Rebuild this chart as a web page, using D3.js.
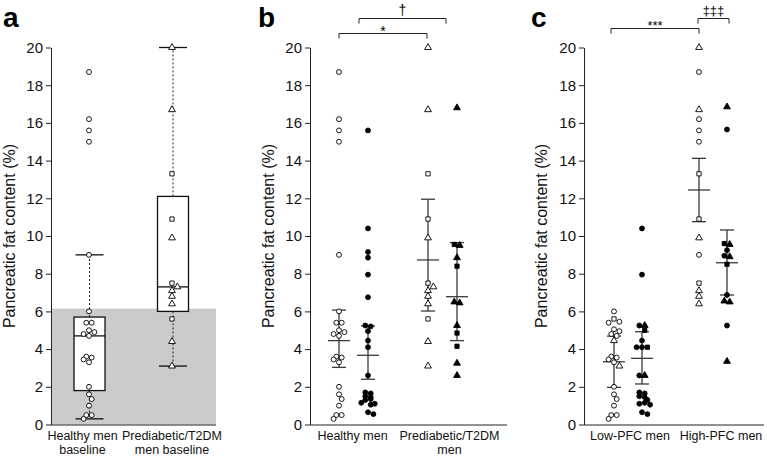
<!DOCTYPE html>
<html><head><meta charset="utf-8">
<script src="https://cdn.jsdelivr.net/npm/d3@7"></script>
<style>
body{margin:0;background:#fff}
svg{display:block}
text{font-family:"Liberation Sans",Arial,Helvetica,sans-serif;fill:#111}
</style>
</head><body><svg id="chart" width="767" height="457"></svg>
<script>
// ================= DATA =================
const yTicks = [0, 2, 4, 6, 8, 10, 12, 14, 16, 18, 20];
const yLabel = "Pancreatic fat content (%)";
const panelLetters = ["a", "b", "c"];

// ---- panel a (box plots at baseline) ----
const aCategories = [["Healthy men", "baseline"], ["Prediabetic/T2DM", "men baseline"]];
const boxWhiskerLow  = [0.3, 3.1];
const boxQ1          = [1.8, 6.0];
const boxMedian      = [4.7, 7.3];
const boxQ3          = [5.7, 12.1];
const boxWhiskerHigh = [9.0, 20.0];
const normalPfcCutoff = 6.15;

const healthyBaseline = [18.7, 16.2, 15.6, 15.0, 9.0, 6.0, 5.4, 5.4, 5.0, 4.9, 4.8, 4.7,
                         3.6, 3.55, 3.45, 3.3, 2.0, 1.6, 1.35, 1.0, 0.5, 0.5, 0.3];
const predBaseline       = [20.0, 16.7, 13.3, 10.9, 9.9, 7.5, 7.3, 7.1, 6.8, 6.4, 5.6, 4.4, 3.1];
const predBaselineShapes = ["t", "t", "s", "s", "t", "s", "t", "t", "t", "t", "s", "t", "t"];

// ---- panel b (baseline vs follow-up) ----
const bCategories = [["Healthy men"], ["Prediabetic/T2DM", "men"]];
const healthyFollowUp = [15.6, 10.4, 9.15, 8.85, 7.95, 6.75, 5.25, 5.2, 4.95, 4.45, 4.1, 2.6,
                         1.7, 1.65, 1.5, 1.45, 1.35, 1.3, 1.15, 1.1, 1.05, 0.65, 0.55];
const predFollowUp       = [16.8, 9.55, 9.5, 8.85, 8.4, 6.5, 6.45, 5.25, 4.85, 4.15, 3.25, 2.6];
const predFollowUpShapes = ["t", "s", "t", "t", "s", "t", "t", "t", "s", "s", "t", "t"];
// summary order: healthy baseline, healthy follow-up, pred baseline, pred follow-up
const bMean  = [4.45, 3.67, 8.73, 6.78];
const bLower = [3.03, 2.40, 6.02, 4.45];
const bUpper = [6.07, 5.23, 11.95, 9.65];

// ---- panel c (low vs high PFC) ----
const cCategories = [["Low-PFC men"], ["High-PFC men"]];
const lowBaseline       = [6.0, 5.6, 5.45, 5.4, 5.05, 4.95, 4.8, 4.7, 4.45, 3.6, 3.55, 3.45, 3.3, 3.1,
                           2.0, 1.6, 1.35, 1.0, 0.5, 0.5, 0.3];
const lowBaselineShapes = ["c", "s", "c", "c", "c", "c", "c", "c", "t", "c", "c", "c", "c", "t",
                           "c", "c", "c", "c", "c", "c", "c"];
const lowFollowUp       = [10.4, 7.95, 5.25, 5.25, 5.0, 4.45, 4.1, 4.1, 4.1, 2.6, 2.6,
                           1.7, 1.65, 1.5, 1.45, 1.3, 1.15, 1.1, 1.05, 0.65, 0.55];
const lowFollowUpShapes = ["c", "c", "c", "t", "s", "c", "c", "s", "c", "c", "t",
                           "c", "c", "c", "c", "c", "c", "c", "c", "c", "c"];
const highBaseline       = [20.0, 18.7, 16.7, 16.2, 15.6, 15.0, 13.3, 10.9, 9.9, 9.0, 7.5, 7.1, 6.8, 6.4];
const highBaselineShapes = ["t", "c", "t", "c", "c", "c", "s", "s", "t", "c", "s", "t", "t", "t"];
const highFollowUp       = [16.85, 15.65, 9.6, 9.55, 9.25, 8.95, 8.9, 8.5, 6.87, 6.55, 6.5, 5.25, 3.35];
const highFollowUpShapes = ["t", "c", "s", "t", "c", "c", "t", "s", "c", "t", "t", "c", "t"];
// summary order: low baseline, low follow-up, high baseline, high follow-up
const cMean  = [3.33, 3.51, 12.44, 8.58];
const cLower = [1.97, 2.15, 10.76, 6.87];
const cUpper = [4.69, 4.92, 14.12, 10.32];

// significance labels
const bSigLabels = ["*", "\u2020"];
const cSigLabels = ["***", "\u2021\u2021\u2021"];

// ================= DRAWING =================
const svg = d3.select("#chart");
const y = d3.scaleLinear().domain([0, 20]).range([424.5, 47.5]);
const axisColor = "#222";
const barColor = "#3a3a3a";

const symType = { c: d3.symbolCircle, t: d3.symbolTriangle, s: d3.symbolSquare };
const symSize = { c: 19, t: 20, s: 18 };

// simple dodge, then re-centre each horizontally-spread cluster on the column
function dodge(values, cx) {
  const order = d3.range(values.length).sort((i, j) => values[j] - values[i]);
  const placed = [];
  const xs = new Array(values.length);
  for (const i of order) {
    const py = y(values[i]);
    let px = cx;
    for (const k of [0, 1, -1, 2, -2, 3, -3]) {
      const cand = cx + k * 2.7;
      if (placed.every(p => Math.hypot(p[0] - cand, p[1] - py) >= 4.8)) { px = cand; break; }
    }
    xs[i] = px; placed.push([px, py]);
  }
  // clusters: points whose y differ by < 1.5 px form a row
  const rows = [];
  for (const i of order) {
    const py = y(values[i]);
    const row = rows.find(r => Math.abs(r.y - py) < 1.5);
    if (row) row.idx.push(i); else rows.push({ y: py, idx: [i] });
  }
  rows.forEach(r => {
    if (r.idx.length > 1) {
      const m = d3.mean(r.idx, i => xs[i]);
      r.idx.forEach(i => xs[i] += cx - m);
    }
  });
  return xs;
}

function drawPoints(g, values, shapes, cx, filled) {
  const xs = dodge(values, cx);
  g.append("g").selectAll("path").data(values).join("path")
    .attr("transform", (d, i) => `translate(${xs[i]},${y(d)})`)
    .attr("d", (d, i) => d3.symbol().type(symType[shapes ? shapes[i] : "c"]).size(symSize[shapes ? shapes[i] : "c"])())
    .attr("fill", filled ? "#000" : "#fff")
    .attr("stroke", "#000")
    .attr("stroke-width", 0.9);
}

function drawAxes(g, left, right, labelX) {
  g.append("g").attr("transform", `translate(${left},0)`)
    .call(d3.axisLeft(y).tickValues(yTicks).tickSize(5).tickSizeOuter(0).tickPadding(3))
    .attr("font-size", 15).attr("font-family", null)
    .call(s => s.select(".domain").attr("stroke", axisColor))
    .call(s => s.selectAll(".tick line").attr("stroke", axisColor))
    .call(s => s.selectAll(".tick text").attr("fill", "#111"));
  g.append("line").attr("x1", left).attr("x2", right).attr("y1", y(0) + 0.5).attr("y2", y(0) + 0.5)
    .attr("stroke", axisColor);
  g.append("text")
    .attr("transform", `translate(${labelX},${(y(0) + y(20)) / 2}) rotate(-90)`)
    .attr("text-anchor", "middle").attr("font-size", 16).text(yLabel);
}

function drawCatLabels(g, cats, xs) {
  cats.forEach((lines, i) => {
    const t = g.append("text").attr("text-anchor", "middle").attr("font-size", 12.5);
    lines.forEach((ln, j) => t.append("tspan").attr("x", xs[i]).attr("y", 440 + j * 14).text(ln));
  });
}

function drawLetter(x, letter) {
  svg.append("text").attr("x", x).attr("y", 27).attr("font-size", 28).attr("font-weight", "bold")
    .style("fill", "#000").text(letter);
}

function drawErrorBars(g, cols, mean, lower, upper) {
  cols.forEach((cx, i) => {
    g.append("line").attr("x1", cx).attr("x2", cx).attr("y1", y(lower[i])).attr("y2", y(upper[i]))
      .attr("stroke", barColor).attr("stroke-width", 1.3);
    [lower[i], upper[i]].forEach(v => g.append("line").attr("x1", cx - 7).attr("x2", cx + 7)
      .attr("y1", y(v)).attr("y2", y(v)).attr("stroke", barColor).attr("stroke-width", 1.3));
    g.append("line").attr("x1", cx - 11).attr("x2", cx + 11).attr("y1", y(mean[i])).attr("y2", y(mean[i]))
      .attr("stroke", barColor).attr("stroke-width", 1.3);
  });
}

function drawBracket(x1, x2, yl, label, fontSize, textY) {
  svg.append("path").attr("d", `M${x1},${yl + 5}V${yl}H${x2}V${yl + 5}`)
    .attr("fill", "none").attr("stroke", "#222").attr("stroke-width", 1);
  svg.append("text").attr("x", (x1 + x2) / 2).attr("y", textY).attr("text-anchor", "middle")
    .attr("font-size", fontSize).style("fill", "#000").text(label);
}

// ---------- panel a ----------
{
  const g = svg.append("g");
  const left = 51, right = 216;
  const xa = d3.scalePoint().domain([0, 1]).range([89.5, 173]);
  g.append("rect").attr("x", left).attr("width", right - left)
    .attr("y", y(normalPfcCutoff)).attr("height", y(0) - y(normalPfcCutoff)).attr("fill", "#cbcbcb");
  [0, 1].forEach(i => {
    const cx = xa(i), hw = 15.5, cap = 14;
    g.append("line").attr("x1", cx).attr("x2", cx).attr("y1", y(boxQ3[i])).attr("y2", y(boxWhiskerHigh[i]))
      .attr("stroke", "#222").attr("stroke-dasharray", "2,2");
    g.append("line").attr("x1", cx).attr("x2", cx).attr("y1", y(boxQ1[i])).attr("y2", y(boxWhiskerLow[i]))
      .attr("stroke", "#222").attr("stroke-dasharray", "2,2");
    [boxWhiskerLow[i], boxWhiskerHigh[i]].forEach(v => g.append("line")
      .attr("x1", cx - cap).attr("x2", cx + cap).attr("y1", y(v)).attr("y2", y(v))
      .attr("stroke", "#111").attr("stroke-width", 1.3));
    g.append("rect").attr("x", cx - hw).attr("width", 2 * hw).attr("y", y(boxQ3[i]))
      .attr("height", y(boxQ1[i]) - y(boxQ3[i])).attr("fill", "#fff").attr("stroke", "#111").attr("stroke-width", 1.3);
    g.append("line").attr("x1", cx - hw).attr("x2", cx + hw).attr("y1", y(boxMedian[i])).attr("y2", y(boxMedian[i]))
      .attr("stroke", "#111").attr("stroke-width", 1.3);
  });
  drawPoints(g, healthyBaseline, null, xa(0) - 0.5, false);
  drawPoints(g, predBaseline, predBaselineShapes, xa(1) - 1, false);
  drawAxes(g, left, right, 15);
  drawCatLabels(g, aCategories, [xa(0) - 7, xa(1) - 1]);
  drawLetter(3, panelLetters[0]);
}

// ---------- panel b ----------
{
  const g = svg.append("g");
  const left = 310, right = 507;
  const xb = d3.scalePoint().domain([0, 1]).range([353.5, 442.5]);
  const cols = [xb(0) - 14.5, xb(0) + 14.5, xb(1) - 14.5, xb(1) + 14.5];
  drawErrorBars(g, cols, bMean, bLower, bUpper);
  drawPoints(g, healthyBaseline, null, cols[0], false);
  drawPoints(g, healthyFollowUp, null, cols[1], true);
  drawPoints(g, predBaseline, predBaselineShapes, cols[2], false);
  drawPoints(g, predFollowUp, predFollowUpShapes, cols[3], true);
  drawAxes(g, left, right, 274);
  drawCatLabels(g, bCategories, [xb(0) - 1, xb(1) + 7]);
  drawLetter(258, panelLetters[1]);
  drawBracket(cols[0], cols[2] - 1, 33.5, bSigLabels[0], 14, 36);
  drawBracket(cols[1] - 9, cols[3] - 11, 18.5, bSigLabels[1], 14, 15);
}

// ---------- panel c ----------
{
  const g = svg.append("g");
  const left = 584, right = 764;
  const xc = d3.scalePoint().domain([0, 1]).range([628, 713]);
  const cols = [xc(0) - 14, xc(0) + 14, xc(1) - 14, xc(1) + 14];
  drawErrorBars(g, cols, cMean, cLower, cUpper);
  drawPoints(g, lowBaseline, lowBaselineShapes, cols[0], false);
  drawPoints(g, lowFollowUp, lowFollowUpShapes, cols[1], true);
  drawPoints(g, highBaseline, highBaselineShapes, cols[2], false);
  drawPoints(g, highFollowUp, highFollowUpShapes, cols[3], true);
  drawAxes(g, left, right, 547);
  drawCatLabels(g, cCategories, [xc(0) + 2, xc(1) + 8]);
  drawLetter(531, panelLetters[2]);
  drawBracket(cols[0] - 3, cols[2], 28.5, cSigLabels[0], 13, 30);
  drawBracket(cols[2] - 1, cols[3] + 2, 18.5, cSigLabels[1], 13, 15);
}
</script>
</body></html>
